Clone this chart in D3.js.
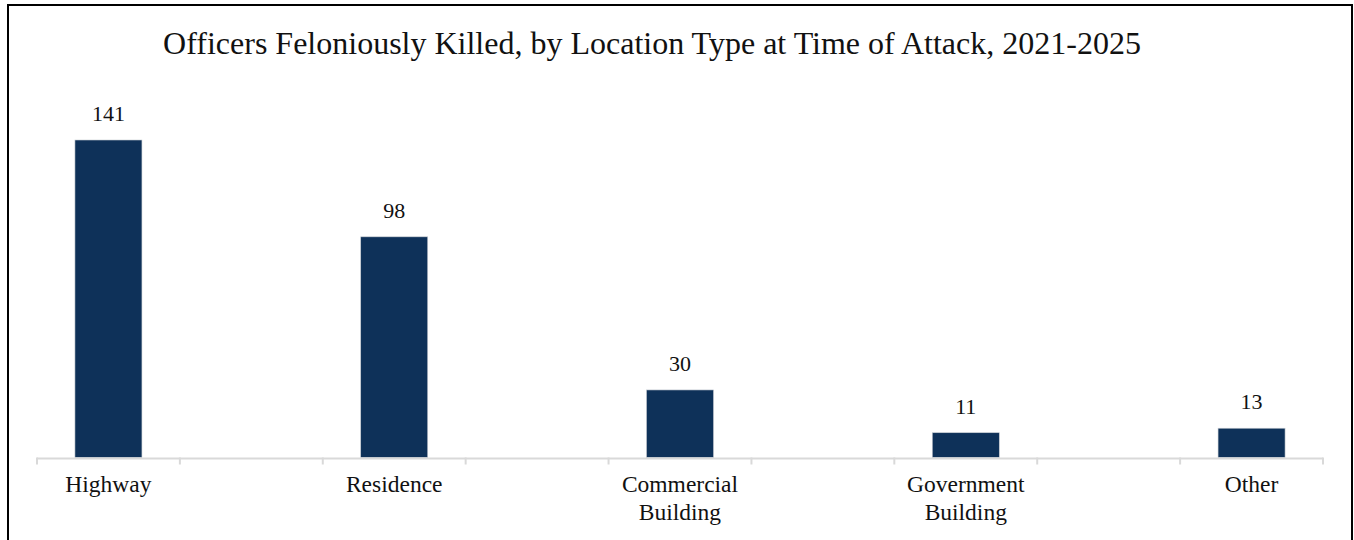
<!DOCTYPE html>
<html>
<head>
<meta charset="utf-8">
<script src="https://cdn.jsdelivr.net/npm/d3@7"></script>
<style>
  html, body { margin: 0; padding: 0; background: #fff; }
  svg { display: block; }
  text { font-family: "Liberation Serif", "Times New Roman", serif; fill: #111; }
</style>
</head>
<body>
<svg id="chart" width="1354" height="540"></svg>
<script>
const title = "Officers Feloniously Killed, by Location Type at Time of Attack, 2021-2025";
const categories = ["Highway", "Residence", "Commercial Building", "Government Building", "Other"];
const categoryLines = [["Highway"], ["Residence"], ["Commercial", "Building"], ["Government", "Building"], ["Other"]];
const values = [141, 98, 30, 11, 13];

const W = 1354, H = 540;
const svg = d3.select("#chart");

svg.append("rect")
  .attr("x", 8).attr("y", 5)
  .attr("width", W - 10).attr("height", H + 10)
  .attr("fill", "none").attr("stroke", "#000").attr("stroke-width", 2);

const left = 37, right = 1323, baseline = 457.5;
// slots: each category followed by an empty gap slot (last category has none)
const slots = [];
categories.forEach((c, i) => { slots.push(c); if (i < categories.length - 1) slots.push("_gap" + i); });
const x = d3.scaleBand().domain(slots).range([left, right]).padding(0);
const y = d3.scaleLinear().domain([0, 141]).range([baseline, 140]);

svg.append("text")
  .attr("x", 652).attr("y", 54)
  .attr("text-anchor", "middle")
  .style("font-size", "32px")
  .text(title);

const barW = 67;
const cx = (d) => x(d) + x.bandwidth() / 2;
const g = svg.append("g");
g.selectAll("rect.bar").data(categories).join("rect")
  .attr("class", "bar")
  .attr("x", (d) => cx(d) - barW / 2)
  .attr("y", (d, i) => y(values[i]))
  .attr("width", barW)
  .attr("height", (d, i) => baseline - y(values[i]))
  .attr("fill", "#0e3159")
  .attr("stroke", "#c8ccd2").attr("stroke-width", 0.6);

g.selectAll("text.val").data(categories).join("text")
  .attr("class", "val")
  .attr("x", cx)
  .attr("y", (d, i) => y(values[i]) - 19)
  .attr("text-anchor", "middle")
  .style("font-size", "22px")
  .text((d, i) => values[i]);

// axis line and ticks at slot boundaries
const tickPos = slots.map(s => x(s)).concat([right]);
svg.append("line")
  .attr("x1", left).attr("x2", right)
  .attr("y1", baseline + 1).attr("y2", baseline + 1)
  .attr("stroke", "#d9d9d9").attr("stroke-width", 2);
svg.selectAll("line.tick").data(tickPos).join("line")
  .attr("class", "tick")
  .attr("x1", d => d).attr("x2", d => d)
  .attr("y1", baseline).attr("y2", baseline + 7)
  .attr("stroke", "#d9d9d9").attr("stroke-width", 2);

const labels = svg.selectAll("text.cat").data(categories).join("text")
  .attr("class", "cat")
  .attr("text-anchor", "middle")
  .style("font-size", "23.5px");
labels.each(function(d, i) {
  const t = d3.select(this);
  categoryLines[i].forEach((ln, j) => {
    t.append("tspan")
      .attr("x", cx(d))
      .attr("y", 492 + j * 28)
      .text(ln);
  });
});
</script>
</body>
</html>
